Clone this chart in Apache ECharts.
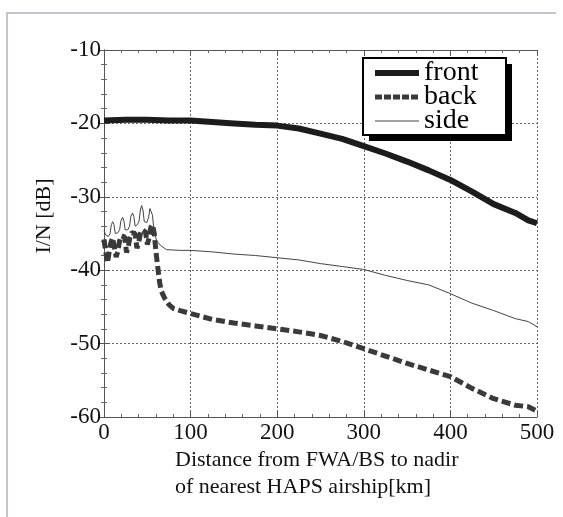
<!DOCTYPE html>
<html>
<head>
<meta charset="utf-8">
<script src="https://cdn.jsdelivr.net/npm/echarts@6/dist/echarts.min.js"></script>
<style>
html,body{margin:0;padding:0;background:#fff;}
#chart{width:563px;height:517px;}
</style>
</head>
<body>
<div id="chart"></div>
<script>
// ---- data (km, dB) ----
const xTicks = [0, 100, 200, 300, 400, 500];
const yTicks = [-60, -50, -40, -30, -20, -10];

const frontX = [0, 25, 50, 75, 100, 125, 150, 175, 200, 225, 250, 275, 300, 325, 350, 375, 400, 425, 450, 475, 490, 500];
const frontY = [-19.6, -19.5, -19.5, -19.6, -19.6, -19.8, -20.0, -20.2, -20.3, -20.7, -21.4, -22.1, -23.1, -24.1, -25.2, -26.4, -27.7, -29.3, -31.0, -32.2, -33.2, -33.6];

const backX = [0, 2, 4, 6, 8, 10, 12, 14, 16, 18, 20, 22, 24, 26, 28, 30, 32, 34, 36, 38, 40, 42, 44, 46, 48, 50, 52, 54, 56, 58, 60, 62, 64, 66, 70, 75, 80, 88, 100, 125, 150, 175, 200, 225, 250, 275, 300, 325, 350, 375, 400, 425, 450, 475, 490, 500];
const backY = [-35.8, -37.5, -39.0, -37.5, -36.2, -35.6, -35.8, -38.2, -37.4, -36.0, -35.3, -35.2, -35.5, -37.6, -36.8, -35.5, -34.9, -34.8, -35.0, -37.0, -36.3, -35.0, -34.5, -34.4, -34.8, -36.5, -35.6, -34.2, -33.8, -35.0, -37.5, -39.5, -41.5, -42.8, -43.8, -44.7, -45.2, -45.5, -45.9, -46.7, -47.2, -47.6, -48.0, -48.4, -48.9, -49.7, -50.7, -51.7, -52.7, -53.6, -54.5, -56.1, -57.5, -58.4, -58.6, -59.2];

const sideX = [0, 2, 5, 7, 8.5, 10, 11.5, 13, 16, 18, 19.5, 21.5, 23, 24.5, 27.5, 29.5, 31, 33, 34.5, 36, 38.5, 40.5, 42, 43.5, 45, 46.5, 49.5, 51.5, 53, 54.5, 56, 58, 61, 65, 72, 88, 100, 125, 150, 175, 200, 225, 250, 275, 300, 325, 350, 375, 400, 425, 450, 475, 490, 500];
const sideY = [-34.6, -35.2, -35.4, -35.0, -33.8, -33.4, -33.8, -35.0, -34.9, -34.5, -33.3, -32.8, -33.3, -34.5, -34.5, -34.0, -32.7, -32.2, -32.7, -34.0, -33.8, -33.3, -31.8, -31.2, -31.8, -33.4, -33.5, -32.8, -31.6, -31.4, -32.5, -35.0, -36.0, -36.6, -37.2, -37.3, -37.3, -37.5, -37.8, -38.0, -38.3, -38.6, -39.1, -39.5, -39.9, -40.7, -41.4, -42.0, -43.2, -44.5, -45.5, -46.6, -47.0, -47.7];

const seriesNames = ['front', 'back', 'side'];
const xName = ['Distance from FWA/BS to nadir', 'of nearest HAPS airship[km]'];
const yName = 'I/N [dB]';

function zip(a, b) { return a.map((v, i) => [v, b[i]]); }

const SERIF = '"Liberation Serif", "Times New Roman", serif';
const chart = echarts.init(document.getElementById('chart'), null, {renderer: 'canvas'});

const tickCommon = {
  axisLine: {show: true, lineStyle: {color: '#555', width: 1}},
  axisTick: {show: true, inside: true, length: 6, lineStyle: {color: '#555'}},
  minorTick: {show: true, splitNumber: 5, length: 3, lineStyle: {color: '#666'}},
};

chart.setOption({
  animation: false,
  backgroundColor: '#fff',
  grid: {left: 104, right: 26, top: 50, bottom: 100, containLabel: false},
  xAxis: [
    Object.assign({
      type: 'value', min: xTicks[0], max: xTicks[xTicks.length - 1], interval: 100,
      position: 'bottom',
      axisLabel: {fontFamily: SERIF, fontSize: 23, color: '#111', margin: 4,
        formatter: v => String(v)},
      splitLine: {show: true, lineStyle: {color: '#666', type: [2, 2], width: 1}},
    }, tickCommon),
    Object.assign({
      type: 'value', min: xTicks[0], max: xTicks[xTicks.length - 1], interval: 100,
      position: 'top', axisLabel: {show: false}, splitLine: {show: false},
    }, tickCommon)
  ],
  yAxis: [
    Object.assign({
      type: 'value', min: yTicks[0], max: yTicks[yTicks.length - 1], interval: 10,
      position: 'left',
      axisLabel: {fontFamily: SERIF, fontSize: 23, color: '#111', margin: 3,
        formatter: v => String(v)},
      splitLine: {show: true, lineStyle: {color: '#666', type: [2, 2], width: 1}},
    }, tickCommon),
    Object.assign({
      type: 'value', min: yTicks[0], max: yTicks[yTicks.length - 1], interval: 10,
      position: 'right', axisLabel: {show: false}, splitLine: {show: false},
    }, tickCommon)
  ],
  legend: {
    orient: 'vertical', left: 372, top: 59, padding: 0, itemGap: -4,
    itemWidth: 44, itemHeight: 14, z: 12,
    data: [
      {name: seriesNames[0], lineStyle: {width: 6}},
      {name: seriesNames[1], lineStyle: {width: 5, type: [7, 2]}},
      {name: seriesNames[2], lineStyle: {width: 1}}
    ],
    itemStyle: {opacity: 0},
    textStyle: {fontFamily: SERIF, fontSize: 28, color: '#000'}
  },
  series: [
    {name: seriesNames[0], type: 'line', data: zip(frontX, frontY), symbol: 'none', smooth: false,
      lineStyle: {color: '#1c1c1c', width: 6}, itemStyle: {color: '#1c1c1c'}},
    {name: seriesNames[1], type: 'line', data: zip(backX, backY), symbol: 'none',
      lineStyle: {color: '#3a3a3a', width: 5, type: [9, 4]}, itemStyle: {color: '#3a3a3a'}},
    {name: seriesNames[2], type: 'line', data: zip(sideX, sideY), symbol: 'none',
      lineStyle: {color: '#444', width: 1}, itemStyle: {color: '#444'}}
  ],
  graphic: [
    {type: 'polyline', z: 0, shape: {points: [[7, 520], [7, 13], [556, 13]]},
      style: {stroke: '#c4c4cc', lineWidth: 2, fill: null}},
    {type: 'rect', z: 10, shape: {x: 369, y: 64, width: 143, height: 77}, style: {fill: '#000'}},
    {type: 'rect', z: 11, shape: {x: 363, y: 58, width: 143, height: 77},
      style: {fill: '#fff', stroke: '#000', lineWidth: 2}},
    {type: 'text', z: 5, x: 175, y: 447,
      style: {text: xName.join('\n'), font: '22px ' + SERIF, fill: '#111', lineHeight: 27,
        textAlign: 'left', textVerticalAlign: 'top'}},
    {type: 'text', z: 5, x: 44, y: 216, rotation: Math.PI / 2,
      style: {text: yName, font: '22px ' + SERIF, fill: '#111',
        textAlign: 'center', textVerticalAlign: 'middle'}}
  ]
});
</script>
</body>
</html>
